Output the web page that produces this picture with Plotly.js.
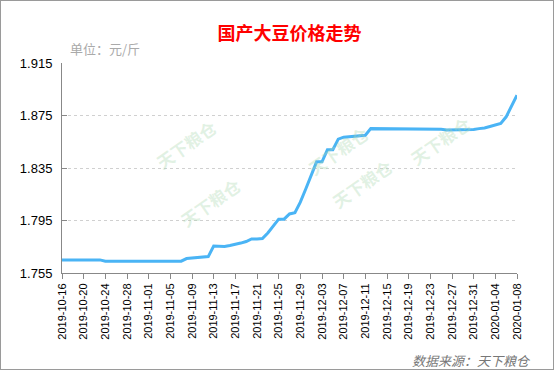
<!DOCTYPE html>
<html>
<head>
<meta charset="utf-8">
<script src="https://cdn.plot.ly/plotly-3.0.1.min.js"></script>
<style>
html,body{margin:0;padding:0;background:#fff;}
#chart{position:absolute;left:0;top:0;width:554px;height:370px;}
#frame{position:absolute;left:0;top:0;width:554px;height:370px;box-sizing:border-box;border:1px solid #9a9a9a;pointer-events:none;}
</style>
</head>
<body>
<div id="chart"></div>
<div id="frame"></div>
<script>
// Daily dates (calendar days)
const dates = [
 "2019-10-16","2019-10-17","2019-10-18","2019-10-19","2019-10-20","2019-10-21","2019-10-22","2019-10-23",
 "2019-10-24","2019-10-25","2019-10-26","2019-10-27","2019-10-28","2019-10-29","2019-10-30","2019-10-31",
 "2019-11-01","2019-11-02","2019-11-03","2019-11-04","2019-11-05","2019-11-06","2019-11-07","2019-11-08",
 "2019-11-09","2019-11-10","2019-11-11","2019-11-12","2019-11-13","2019-11-14","2019-11-15","2019-11-16",
 "2019-11-17","2019-11-18","2019-11-19","2019-11-20","2019-11-21","2019-11-22","2019-11-23","2019-11-24",
 "2019-11-25","2019-11-26","2019-11-27","2019-11-28","2019-11-29","2019-11-30","2019-12-01","2019-12-02",
 "2019-12-03","2019-12-04","2019-12-05","2019-12-06","2019-12-07","2019-12-08","2019-12-09","2019-12-10",
 "2019-12-11","2019-12-12","2019-12-13","2019-12-14","2019-12-15","2019-12-16","2019-12-17","2019-12-18",
 "2019-12-19","2019-12-20","2019-12-21","2019-12-22","2019-12-23","2019-12-24","2019-12-25","2019-12-26",
 "2019-12-27","2019-12-28","2019-12-29","2019-12-30","2019-12-31","2020-01-01","2020-01-02","2020-01-03",
 "2020-01-04","2020-01-05","2020-01-06","2020-01-07","2020-01-08"
];
// Price (元/斤)
const prices = [
 1.765,1.765,1.765,1.765,1.765,1.765,1.765,1.765,
 1.764,1.764,1.764,1.764,1.764,1.764,1.764,1.764,
 1.764,1.764,1.764,1.764,1.764,1.764,1.764,1.766,
 1.7665,1.767,1.767,1.7675,1.7755,1.7755,1.7752,1.776,
 1.7768,1.7778,1.779,1.781,1.781,1.7812,1.7855,1.791,
 1.796,1.796,1.800,1.801,1.809,1.819,1.830,1.8397,
 1.8397,1.849,1.849,1.857,1.8585,1.859,1.8595,1.860,
 1.860,1.865,1.865,1.865,1.865,1.865,1.865,1.865,
 1.865,1.865,1.865,1.865,1.865,1.865,1.8645,1.864,
 1.864,1.864,1.864,1.864,1.8643,1.865,1.8655,1.8666,
 1.8676,1.869,1.874,1.882,1.8905
];
const yTicks = [1.755, 1.795, 1.835, 1.875, 1.915];
const titleText = "国产大豆价格走势";
const unitText = "单位：元/斤";
const sourceText = "数据来源：天下粮仓";
const watermark = "天下粮仓";

const L = 62, R = 37, T = 63, B = 97, W = 554, H = 370;
const pw = W - L - R, ph = H - T - B;
function px(x){ return (x - L) / pw; }
function py(y){ return (H - B - y) / ph; }

const wmPos = [[148,112],[338,118],[478,140],[172,202],[362,216]];
const annotations = wmPos.map(p => ({
  xref:'paper', yref:'paper', x:px(p[0]), y:py(p[1]), text:watermark, showarrow:false,
  textangle:-35, font:{family:'Noto Sans CJK SC', size:17, color:'rgba(170,215,175,0.35)', weight:'bold'}
}));
annotations.push({
  xref:'paper', yref:'paper', x:px(68), y:py(48), xanchor:'left', yanchor:'middle',
  text:unitText, showarrow:false, font:{family:'Noto Sans CJK SC', size:13, color:'#aaaaaa'}
});
annotations.push({
  xref:'paper', yref:'paper', x:px(533), y:py(360), xanchor:'right', yanchor:'middle',
  text:'<i>'+sourceText+'</i>', showarrow:false, font:{family:'Noto Sans CJK SC', size:13, color:'#777777'}
});

const trace = {
  x: dates, y: prices, type:'scatter', mode:'lines',
  line:{color:'#4ab4f5', width:3}, hoverinfo:'skip'
};

const layout = {
  width: W, height: H,
  margin:{l:L, r:R, t:T, b:B, pad:0},
  paper_bgcolor:'#ffffff', plot_bgcolor:'#ffffff',
  showlegend:false,
  title:{text:titleText, x:0.5, xanchor:'center', xref:'paper', y:1 - 34/H, yanchor:'middle',
    font:{family:'Noto Sans CJK SC', size:18, color:'#ff0000', weight:'bold'}},
  xaxis:{
    type:'date', range:[dates[0], dates[dates.length-1]],
    tick0:dates[0], dtick:4*86400000, tickformat:'%Y-%m-%d', tickangle:-90,
    ticks:'outside', ticklen:5, tickcolor:'#888888', tickwidth:1,
    showline:true, linecolor:'#888888', linewidth:1,
    showgrid:false, zeroline:false,
    tickfont:{family:'Liberation Sans', size:11, color:'#000000'}
  },
  yaxis:{
    range:[yTicks[0], yTicks[yTicks.length-1]],
    tickvals:yTicks, tickformat:'.3f',
    ticks:'inside', ticklen:5, tickcolor:'#888888', tickwidth:1,
    showline:true, linecolor:'#888888', linewidth:1,
    showgrid:true, gridcolor:'#d0d0d0', griddash:'dot', gridwidth:1,
    zeroline:false, ticklabelstandoff:6,
    tickfont:{family:'Liberation Sans', size:13, color:'#000000'}
  },
  annotations: annotations
};

Plotly.newPlot('chart', [trace], layout, {displayModeBar:false, staticPlot:true});
</script>
</body>
</html>
